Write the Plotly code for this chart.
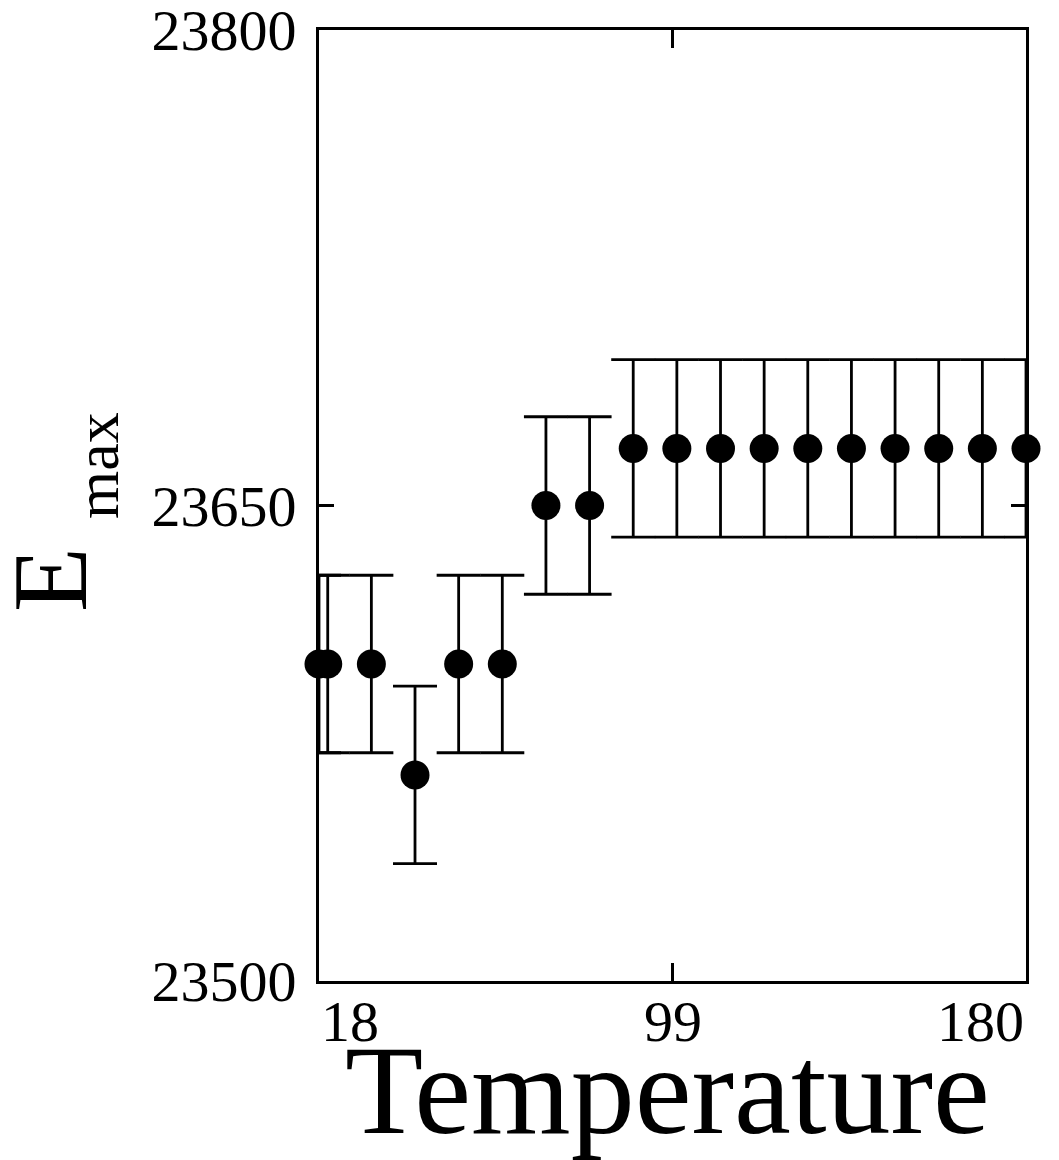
import plotly.graph_objects as go

# ---- data ----
temperature = [18, 20, 30, 40, 50, 60, 70, 80, 90, 100, 110, 120, 130, 140, 150, 160, 170, 180]
e_max = [23600, 23600, 23600, 23565, 23600, 23600, 23650, 23650,
         23668, 23668, 23668, 23668, 23668, 23668, 23668, 23668, 23668, 23668]
e_err = [28, 28, 28, 28, 28, 28, 28, 28, 28, 28, 28, 28, 28, 28, 28, 28, 28, 28]

x_ticks = [18, 99, 180]
x_ticklabels = ["18", "99", "180"]
y_ticks = [23500, 23650, 23800]
y_ticklabels = ["23500", "23650", "23800"]

FONT = "Liberation Serif"

# layout geometry (px)
W, H = 1059, 1160
L, R, T, B = 319, 1026, 30, 981
pw, ph = R - L, B - T

fig = go.Figure()
fig.add_trace(go.Scatter(
    x=temperature, y=e_max, mode="markers",
    marker=dict(size=29, color="black"),
    error_y=dict(type="data", array=e_err, color="black", thickness=2.8, width=22),
    cliponaxis=False, showlegend=False,
))

def px_x(p):
    return (p - L) / pw

def px_y(p):
    return (B - p) / ph

annotations = []
anchors = ["left", "center", "right"]
for v, t, a in zip(x_ticks, x_ticklabels, anchors):
    annotations.append(dict(
        x=v, xref="x", y=0, yref="paper", yanchor="top", xanchor=a,
        yshift=-6, text=t, showarrow=False,
        font=dict(family=FONT, size=58, color="black"),
    ))

annotations.append(dict(
    x=0.5, xref="paper", y=0, yref="paper", yanchor="top", xanchor="center",
    yshift=-36, xshift=-5, text="Temperature", showarrow=False,
    font=dict(family=FONT, size=128, color="black"),
))
annotations.append(dict(
    x=px_x(50), xref="paper", y=px_y(580), yref="paper",
    xanchor="center", yanchor="middle", textangle=-90,
    text="E", showarrow=False,
    font=dict(family=FONT, size=106, color="black"),
))
annotations.append(dict(
    x=px_x(97), xref="paper", y=px_y(466), yref="paper",
    xanchor="center", yanchor="middle", textangle=-90,
    text="max", showarrow=False,
    font=dict(family=FONT, size=62, color="black"),
))

fig.update_layout(
    width=W, height=H,
    margin=dict(l=L, r=W - R, t=T, b=H - B, pad=0, autoexpand=False),
    paper_bgcolor="white", plot_bgcolor="white",
    showlegend=False,
    annotations=annotations,
    xaxis=dict(
        range=[18, 180], tickvals=x_ticks, showticklabels=False,
        ticks="inside", ticklen=18, tickwidth=3, tickcolor="black",
        showline=True, linecolor="black", linewidth=3, mirror="ticks",
        showgrid=False, zeroline=False, automargin=False,
    ),
    yaxis=dict(
        range=[23500, 23800], tickvals=y_ticks, ticktext=y_ticklabels,
        ticks="inside", ticklen=15, tickwidth=3, tickcolor="black",
        ticklabelstandoff=8, ticklabeloverflow="allow",
        tickfont=dict(family=FONT, size=58, color="black"),
        showline=True, linecolor="black", linewidth=3, mirror="ticks",
        showgrid=False, zeroline=False, automargin=False,
    ),
)

fig.write_html("out.html")
